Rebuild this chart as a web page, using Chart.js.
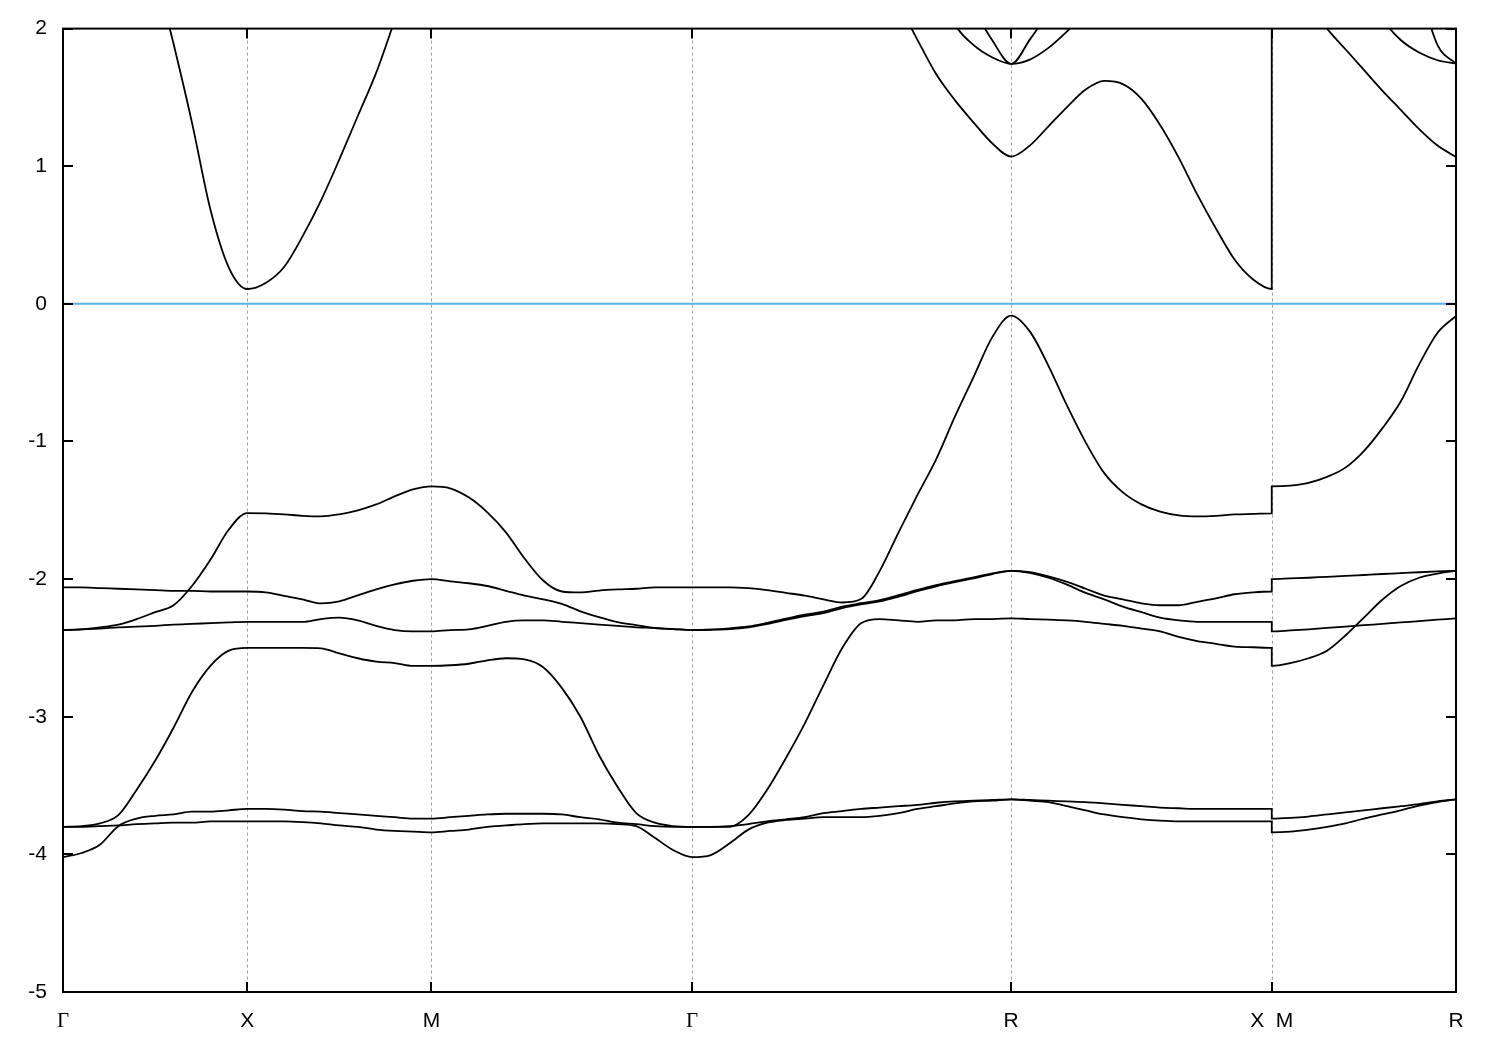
<!DOCTYPE html>
<html>
<head>
<meta charset="utf-8">
<title>Band structure</title>
<script src="https://cdn.jsdelivr.net/npm/chart.js@4.4.1/dist/chart.umd.min.js"></script>
<style>
  html, body { margin: 0; padding: 0; background: #fff; }
  canvas { display: block; }
</style>
</head>
<body>
<canvas id="bands" width="1500" height="1050"></canvas>
<script>
// distance along the path G-X-M-G-R-X|M-R (2pi/a units)
const kPath = [
  0, 0.05, 0.1, 0.15, 0.2, 0.25, 0.3, 0.35, 0.4, 0.45, 0.5,
  0.55, 0.6, 0.65, 0.7, 0.75, 0.8, 0.85, 0.9, 0.95, 1.0,
  1.0505, 1.101, 1.1515, 1.202, 1.2525, 1.303, 1.3536, 1.4041, 1.4546, 1.5051, 1.5556, 1.6061, 1.6566, 1.7071,
  1.758, 1.809, 1.8599, 1.9109, 1.9618, 2.0128, 2.0637, 2.1146, 2.1656, 2.2165, 2.2675, 2.3184, 2.3694, 2.4203, 2.4712, 2.5222, 2.5731,
  2.6236, 2.6742, 2.7247, 2.7752, 2.8257, 2.8762, 2.9267, 2.9772, 3.0277, 3.0782, 3.1287, 3.1792, 3.2297, 3.2802,
  3.2802, 3.3302, 3.3802, 3.4302, 3.4802, 3.5302, 3.5802, 3.6302, 3.6802, 3.7302, 3.7802
];

const kTicks = [0, 0.5, 1.0, 1.7071, 2.5731, 3.2802, 3.7802];
const kLabels = ['Γ', 'X', 'M', 'Γ', 'R', 'X  M', 'R'];
const energyTicks = [2, 1, 0, -1, -2, -3, -4, -5];
const fermiLevel = 0;

// valence bands (eV)
const band1 = [
  -2.37, -2.365, -2.35, -2.33, -2.29, -2.24, -2.19, -2.05, -1.86, -1.64, -1.52,
  -1.522, -1.529, -1.54, -1.544, -1.529, -1.50, -1.457, -1.399, -1.348, -1.326,
  -1.34, -1.406, -1.515, -1.66, -1.85, -2.01, -2.09, -2.097, -2.083, -2.075, -2.07, -2.06, -2.06, -2.06,
  -2.06, -2.06, -2.066, -2.08, -2.10, -2.12, -2.147, -2.17, -2.145, -1.94, -1.66, -1.39, -1.13, -0.82, -0.53, -0.24, -0.085,
  -0.20, -0.45, -0.74, -1.006, -1.23, -1.37, -1.457, -1.51, -1.537, -1.544, -1.54, -1.53, -1.526, -1.522,
  -1.326, -1.32, -1.30, -1.257, -1.19, -1.07, -0.905, -0.71, -0.44, -0.21, -0.088
];
const band2 = [
  -2.06, -2.06, -2.065, -2.07, -2.075, -2.08, -2.085, -2.085, -2.09, -2.09, -2.09,
  -2.096, -2.121, -2.147, -2.176, -2.161, -2.118, -2.074, -2.038, -2.012, -2.00,
  -2.016, -2.03, -2.05, -2.085, -2.12, -2.147, -2.18, -2.234, -2.277, -2.313, -2.334, -2.356, -2.363, -2.37,
  -2.367, -2.358, -2.344, -2.318, -2.288, -2.258, -2.236, -2.20, -2.175, -2.152, -2.117, -2.078, -2.043, -2.014, -1.988, -1.958, -1.94,
  -1.95, -1.98, -2.02, -2.07, -2.12, -2.147, -2.176, -2.19, -2.19, -2.165, -2.14, -2.11, -2.096, -2.09,
  -2.00, -1.995, -1.99, -1.983, -1.977, -1.97, -1.963, -1.957, -1.95, -1.944, -1.94
];
const band3 = [
  -2.37, -2.365, -2.36, -2.35, -2.345, -2.34, -2.33, -2.325, -2.32, -2.315, -2.31,
  -2.31, -2.31, -2.31, -2.29, -2.28, -2.30, -2.34, -2.37, -2.38, -2.38,
  -2.37, -2.365, -2.34, -2.31, -2.30, -2.30, -2.31, -2.32, -2.33, -2.34, -2.35, -2.355, -2.363, -2.37,
  -2.368, -2.363, -2.35, -2.326, -2.297, -2.268, -2.247, -2.21, -2.183, -2.162, -2.127, -2.088, -2.052, -2.022, -1.995, -1.963, -1.94,
  -1.955, -1.99, -2.04, -2.10, -2.147, -2.20, -2.24, -2.28, -2.30, -2.31, -2.31, -2.31, -2.31, -2.31,
  -2.38, -2.373, -2.365, -2.355, -2.345, -2.335, -2.325, -2.315, -2.305, -2.295, -2.285
];
const band4 = [
  -3.80, -3.795, -3.775, -3.715, -3.53, -3.32, -3.08, -2.82, -2.63, -2.52, -2.50,
  -2.50, -2.50, -2.50, -2.503, -2.54, -2.575, -2.60, -2.61, -2.63, -2.63,
  -2.626, -2.615, -2.59, -2.575, -2.583, -2.64, -2.79, -3.00, -3.28, -3.51, -3.70, -3.77, -3.795, -3.80,
  -3.80, -3.80, -3.715, -3.53, -3.30, -3.05, -2.77, -2.50, -2.32, -2.29, -2.30, -2.31, -2.30, -2.30, -2.29, -2.29, -2.285,
  -2.29, -2.295, -2.30, -2.31, -2.325, -2.34, -2.36, -2.38, -2.42, -2.45, -2.47, -2.49, -2.495, -2.50,
  -2.63, -2.61, -2.575, -2.52, -2.41, -2.28, -2.15, -2.05, -1.99, -1.96, -1.94
];
const band5 = [
  -4.02, -3.99, -3.93, -3.795, -3.74, -3.72, -3.71, -3.69, -3.69, -3.68, -3.67,
  -3.67, -3.675, -3.686, -3.69, -3.70, -3.71, -3.72, -3.73, -3.74, -3.74,
  -3.73, -3.72, -3.71, -3.705, -3.705, -3.705, -3.71, -3.73, -3.745, -3.77, -3.78, -3.795, -3.80, -3.80,
  -3.80, -3.795, -3.78, -3.76, -3.745, -3.73, -3.70, -3.686, -3.67, -3.66, -3.65, -3.64, -3.625, -3.615, -3.61, -3.605, -3.60,
  -3.605, -3.61, -3.615, -3.62, -3.63, -3.64, -3.65, -3.66, -3.665, -3.67, -3.67, -3.67, -3.67, -3.67,
  -3.74, -3.735, -3.725, -3.71, -3.695, -3.68, -3.665, -3.65, -3.635, -3.615, -3.60
];
const band6 = [
  -3.80, -3.80, -3.795, -3.79, -3.78, -3.775, -3.77, -3.77, -3.76, -3.76, -3.76,
  -3.76, -3.76, -3.765, -3.775, -3.79, -3.80, -3.82, -3.83, -3.835, -3.84,
  -3.83, -3.82, -3.80, -3.79, -3.78, -3.775, -3.775, -3.775, -3.775, -3.78, -3.795, -3.88, -3.97, -4.02,
  -4.005, -3.92, -3.82, -3.77, -3.75, -3.74, -3.73, -3.73, -3.73, -3.72, -3.70, -3.67, -3.65, -3.63, -3.615, -3.61, -3.60,
  -3.61, -3.62, -3.65, -3.68, -3.71, -3.73, -3.745, -3.755, -3.76, -3.76, -3.76, -3.76, -3.76, -3.76,
  -3.84, -3.835, -3.82, -3.80, -3.775, -3.74, -3.71, -3.68, -3.645, -3.62, -3.60
];

// conduction bands (eV), values above 2 fall outside the frame
const band7 = [
  4.4, 4.2, 3.9, 3.5, 3.0, 2.42, 1.89, 1.317, 0.686, 0.264, 0.108,
  0.152, 0.268, 0.49, 0.75, 1.05, 1.365, 1.68, 2.06, 2.45, 2.8,
  3.0, 3.2, 3.4, 3.6, 3.8, 3.95, 4.1, 4.2, 4.3, 4.35, 4.4, 4.4, 4.4, 4.4,
  4.35, 4.3, 4.2, 4.05, 3.85, 3.6, 3.35, 3.05, 2.75, 2.45, 2.18, 1.92, 1.67, 1.48, 1.317, 1.165, 1.07,
  1.15, 1.29, 1.43, 1.557, 1.62, 1.597, 1.49, 1.30, 1.063, 0.794, 0.548, 0.322, 0.177, 0.108,
  2.5, 2.35, 2.18, 2.0, 1.85, 1.70, 1.55, 1.41, 1.27, 1.15, 1.067
];
const band8 = [
  4.9, 4.85, 4.8, 4.75, 4.7, 4.65, 4.6, 4.6, 4.55, 4.55, 4.5,
  4.5, 4.5, 4.55, 4.6, 4.6, 4.65, 4.7, 4.7, 4.75, 4.75,
  4.75, 4.8, 4.8, 4.85, 4.85, 4.85, 4.9, 4.9, 4.9, 4.9, 4.9, 4.9, 4.9, 4.9,
  4.85, 4.75, 4.6, 4.45, 4.25, 4.05, 3.85, 3.6, 3.35, 3.1, 2.85, 2.6, 2.35, 2.03, 1.88, 1.79, 1.744,
  1.775, 1.86, 1.98, 2.12, 2.3, 2.5, 2.7, 2.9, 3.1, 3.3, 3.5, 3.65, 3.8, 3.9,
  3.8, 3.5, 3.2, 2.9, 2.6, 2.3, 2.07, 1.917, 1.826, 1.77, 1.745
];
const band9 = [
  5.3, 5.25, 5.2, 5.15, 5.1, 5.05, 5.0, 5.0, 4.95, 4.95, 4.9,
  4.9, 4.9, 4.95, 4.95, 5.0, 5.0, 5.05, 5.05, 5.1, 5.1,
  5.1, 5.15, 5.15, 5.2, 5.2, 5.25, 5.25, 5.3, 5.3, 5.3, 5.3, 5.3, 5.3, 5.3,
  5.25, 5.15, 5.0, 4.85, 4.7, 4.5, 4.3, 4.1, 3.9, 3.65, 3.4, 3.1, 2.8, 2.45, 2.15, 1.913, 1.744,
  1.92, 2.13, 2.45, 2.75, 3.05, 3.3, 3.55, 3.75, 3.95, 4.1, 4.25, 4.35, 4.45, 4.5,
  4.5, 4.4, 4.3, 4.1, 3.9, 3.6, 3.2, 2.8, 2.3, 1.88, 1.745
];

const bands = [band1, band2, band3, band4, band5, band6, band7, band8, band9];

// dashed lines at the symmetry points, gnuplot-like frame with inward ticks
const framePlugin = {
  id: 'frame',
  beforeDatasetsDraw(chart) {
    const { ctx, chartArea: a, scales: { x } } = chart;
    ctx.save();
    ctx.strokeStyle = '#a0a0a0';
    ctx.lineWidth = 1;
    ctx.setLineDash([3, 3]);
    kTicks.slice(1, -1).forEach(k => {
      const px = Math.round(x.getPixelForValue(k)) + 0.5;
      ctx.beginPath();
      ctx.moveTo(px, a.top);
      ctx.lineTo(px, a.bottom);
      ctx.stroke();
    });
    ctx.restore();
  },
  afterDatasetsDraw(chart) {
    const { ctx, chartArea: a, scales: { x, y } } = chart;
    const len = 10;
    ctx.save();
    ctx.strokeStyle = '#000';
    ctx.lineWidth = 2;
    ctx.beginPath();
    energyTicks.forEach(v => {
      const py = Math.round(y.getPixelForValue(v));
      ctx.moveTo(a.left, py); ctx.lineTo(a.left + len, py);
      ctx.moveTo(a.right, py); ctx.lineTo(a.right - len, py);
    });
    kTicks.forEach(k => {
      const px = Math.round(x.getPixelForValue(k));
      ctx.moveTo(px, a.bottom); ctx.lineTo(px, a.bottom - len);
      ctx.moveTo(px, a.top); ctx.lineTo(px, a.top + len);
    });
    ctx.stroke();
    ctx.strokeRect(a.left, a.top, a.right - a.left, a.bottom - a.top);
    ctx.restore();
  }
};

const datasets = bands.map(b => ({
  data: b.map((e, i) => ({ x: kPath[i], y: e })),
  borderColor: '#000',
  borderWidth: 1.8,
  pointRadius: 0,
  fill: false,
  cubicInterpolationMode: 'monotone'
}));
datasets.push({
  data: [{ x: kPath[0], y: fermiLevel }, { x: kPath[kPath.length - 1], y: fermiLevel }],
  borderColor: '#56b4e9',
  borderWidth: 2,
  pointRadius: 0,
  fill: false
});

new Chart(document.getElementById('bands').getContext('2d'), {
  type: 'line',
  data: { datasets: datasets },
  options: {
    responsive: false,
    animation: false,
    devicePixelRatio: 1,
    events: [],
    layout: { padding: { top: 28, right: 44, left: 0, bottom: 0 } },
    plugins: { legend: { display: false }, tooltip: { enabled: false } },
    scales: {
      x: {
        type: 'linear',
        min: kTicks[0],
        max: kTicks[kTicks.length - 1],
        grid: { display: false, drawTicks: false },
        border: { display: false },
        afterBuildTicks: s => { s.ticks = kTicks.map(v => ({ value: v })); },
        afterFit: s => { s.height = 58; },
        ticks: {
          autoSkip: false,
          maxRotation: 0,
          padding: 17,
          color: '#000',
          callback: v => kLabels[kTicks.indexOf(v)],
          font: c => ({
            family: (c.tick && c.tick.label === 'Γ') ? 'Liberation Serif' : 'Liberation Sans',
            size: 21
          })
        }
      },
      y: {
        min: -5,
        max: 2,
        grid: { display: false, drawTicks: false },
        border: { display: false },
        afterFit: s => { s.width = 63; },
        ticks: {
          stepSize: 1,
          padding: 16,
          color: '#000',
          font: { family: 'Liberation Sans', size: 21 },
          callback: v => String(v)
        }
      }
    }
  },
  plugins: [framePlugin]
});
</script>
</body>
</html>
